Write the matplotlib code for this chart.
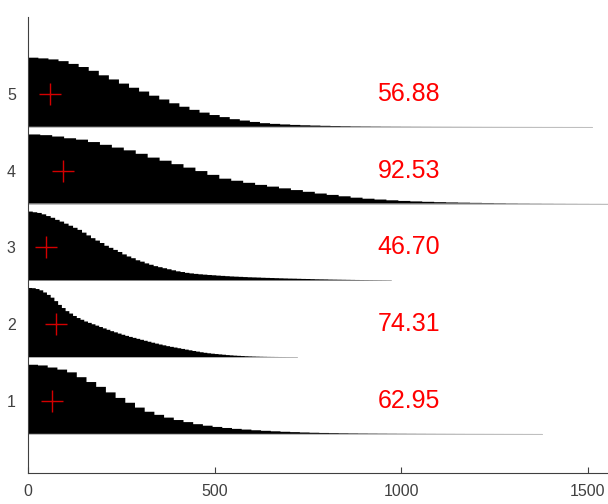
import numpy as np
import matplotlib.pyplot as plt

plt.rcParams['font.family'] = ['Liberation Sans', 'DejaVu Sans']

# relative histogram heights (peak = 1) for each group, bottom row first
bin_widths = [26, 10, 12, 32, 27]

hist_1 = [1.0, 0.99, 0.96, 0.93, 0.89, 0.82, 0.75, 0.68, 0.6, 0.52, 0.45, 0.38, 0.32,
          0.275, 0.235, 0.2, 0.17, 0.14, 0.118, 0.1, 0.085, 0.072, 0.062, 0.052, 0.044,
          0.037, 0.03, 0.025, 0.02, 0.016, 0.013, 0.011, 0.009, 0.0075, 0.0062, 0.0052,
          0.0044, 0.0037, 0.0031, 0.0026, 0.0022, 0.0019, 0.0016, 0.0014, 0.0012, 0.001,
          0.0009, 0.0008, 0.0007, 0.0006, 0.0005, 0.0004, 0.0003]

hist_2 = [1.0, 0.997, 0.985, 0.966, 0.935, 0.9, 0.86, 0.81, 0.755, 0.71, 0.665, 0.63,
          0.595, 0.565, 0.54, 0.515, 0.495, 0.475, 0.455, 0.435, 0.415, 0.395, 0.375,
          0.358, 0.34, 0.323, 0.307, 0.292, 0.278, 0.264, 0.25, 0.236, 0.222, 0.208,
          0.195, 0.182, 0.17, 0.158, 0.148, 0.138, 0.128, 0.118, 0.108, 0.098, 0.088,
          0.079, 0.07, 0.062, 0.055, 0.049, 0.044, 0.039, 0.034, 0.029, 0.025, 0.021,
          0.018, 0.015, 0.012, 0.01, 0.008, 0.0065, 0.005, 0.004, 0.003, 0.0024, 0.0018,
          0.0013, 0.001, 0.0007, 0.0005, 0.0003]

hist_3 = [0.995, 0.985, 0.975, 0.955, 0.93, 0.905, 0.875, 0.85, 0.82, 0.79, 0.76, 0.73,
          0.69, 0.65, 0.61, 0.575, 0.54, 0.5, 0.47, 0.44, 0.41, 0.375, 0.345, 0.32, 0.29,
          0.27, 0.245, 0.225, 0.205, 0.19, 0.175, 0.16, 0.145, 0.13, 0.12, 0.108, 0.1,
          0.093, 0.087, 0.082, 0.077, 0.073, 0.068, 0.064, 0.06, 0.056, 0.053, 0.05,
          0.047, 0.044, 0.042, 0.04, 0.037, 0.035, 0.033, 0.031, 0.029, 0.027, 0.025,
          0.024, 0.022, 0.02, 0.019, 0.017, 0.015, 0.014, 0.013, 0.011, 0.01, 0.009,
          0.008, 0.007, 0.006, 0.005, 0.004, 0.0035, 0.003, 0.0025, 0.002, 0.0015, 0.001]

hist_4 = [1.0, 0.99, 0.97, 0.945, 0.925, 0.89, 0.85, 0.81, 0.77, 0.72, 0.665, 0.62, 0.57,
          0.52, 0.47, 0.415, 0.36, 0.33, 0.3, 0.27, 0.245, 0.22, 0.195, 0.17, 0.145,
          0.125, 0.105, 0.085, 0.07, 0.058, 0.047, 0.038, 0.031, 0.025, 0.02, 0.016,
          0.013, 0.01, 0.008, 0.0065, 0.005, 0.004, 0.0032, 0.0026, 0.002, 0.0016,
          0.0013, 0.001, 0.0008, 0.0006, 0.0005, 0.0004, 0.0003]

hist_5 = [1.0, 0.99, 0.975, 0.95, 0.91, 0.865, 0.81, 0.745, 0.685, 0.625, 0.565, 0.51,
          0.45, 0.395, 0.34, 0.29, 0.245, 0.205, 0.17, 0.14, 0.11, 0.09, 0.07, 0.052,
          0.042, 0.034, 0.027, 0.022, 0.018, 0.014, 0.011, 0.009, 0.007, 0.006, 0.005,
          0.004, 0.0035, 0.003, 0.0026, 0.0023, 0.002, 0.0018, 0.0016, 0.0014, 0.0012,
          0.001, 0.0009, 0.0008, 0.0007, 0.0006, 0.0005, 0.0004, 0.0004, 0.0003, 0.0003,
          0.0002]

hists = [hist_1, hist_2, hist_3, hist_4, hist_5]
group_pos = [1, 2, 3, 4, 5]
centre_vals = [62.95, 74.31, 46.70, 92.53, 56.88]

fig = plt.figure(figsize=(6.08, 5.04), dpi=100)
ax = fig.add_axes([28.3 / 608, 31 / 504, 1 - 28.3 / 608, 456 / 504])

for pos, h, w, m in zip(group_pos, hists, bin_widths, centre_vals):
    base = pos - 0.43
    edges = np.arange(len(h) + 1) * w
    # outline of the stepped histogram as one closed polygon
    xs = np.concatenate([[0], np.repeat(edges, 2)[1:-1], [edges[-1]]])
    ys = np.concatenate([[base], base + 0.9 * np.repeat(h, 2), [base]])
    ax.plot([0, edges[-1]], [base, base], color='0.7', lw=0.6, zorder=1)
    ax.fill(xs, ys, facecolor='black', edgecolor='none', lw=0, snap=False,
            zorder=2)
    ax.plot(m, pos, marker='+', ms=16.5, mew=1.0, color='#d40000', zorder=3)
    ax.text(1020, pos, f'{m:.2f}', color='#ff0000', fontsize=18,
            ha='center', va='center')

ax.set_xlim(0, 1554)
ax.set_ylim(0.06, 6.0)
ax.set_xticks([0, 500, 1000, 1500])
ax.set_yticks(group_pos)
ax.tick_params(direction='in', length=4, width=0.8, colors='#404040',
               labelsize=11.5, pad=8)
ax.tick_params(axis='y', length=0, pad=9)
for side in ['top', 'right']:
    ax.spines[side].set_visible(False)
for side in ['left', 'bottom']:
    ax.spines[side].set_color('#404040')
    ax.spines[side].set_linewidth(0.8)

fig.savefig('out.png', dpi=100)
